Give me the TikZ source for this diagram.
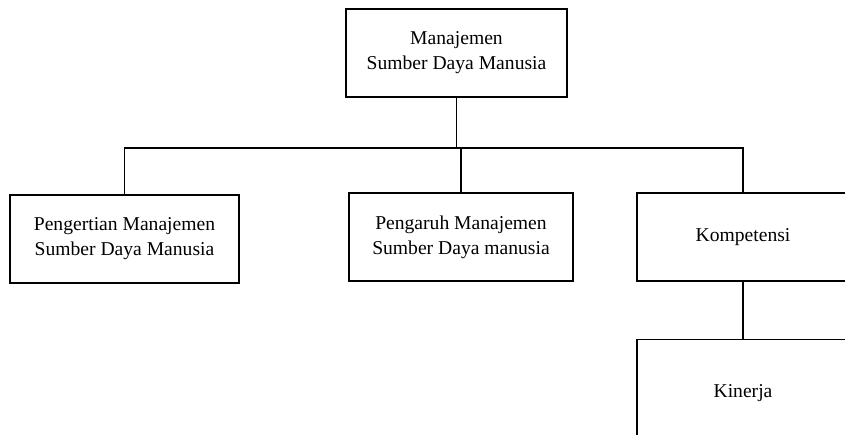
\documentclass[tikz,border=0pt]{standalone}
\usepackage{fontspec}
\setmainfont{Liberation Serif}
\usetikzlibrary{positioning}

\begin{document}
\begin{tikzpicture}[x=1pt,y=-1pt,line width=1.2pt,
  box/.style={draw,align=center,inner sep=0pt,minimum height=88pt,
    font=\fontsize{19.6}{25}\selectfont}]
  \useasboundingbox (0,0) rectangle (845,435);
  \clip (0,0) rectangle (845,435);
  \fill[white] (0,0) rectangle (845,435);
  % top of the tree
  \node[box,minimum width=221pt] (msdm) at (456.5,53) {Manajemen\\ Sumber Daya Manusia};
  \coordinate (bus) at (0,148);
  % second level
  \node[box,minimum width=229pt] (pengertian) at (124.5,239) {Pengertian Manajemen\\Sumber Daya Manusia};
  \node[box,minimum width=224pt] (pengaruh) at (461,237) {Pengaruh Manajemen\\Sumber Daya manusia};
  \node[box,minimum width=212pt] (kompetensi) at (743,237) {Kompetensi};
  \node[box,minimum width=212pt,minimum height=108pt,below=57pt of kompetensi] (kinerja) {Kinerja};
  % connectors
  \draw (msdm.south) -- (msdm.south |- bus);
  \draw (pengertian.north) -- (pengertian.north |- bus) -| (kompetensi.north);
  \draw (pengaruh.north) -- (pengaruh.north |- bus);
  \draw (kompetensi.south) -- (kinerja.north);
\end{tikzpicture}
\end{document}
